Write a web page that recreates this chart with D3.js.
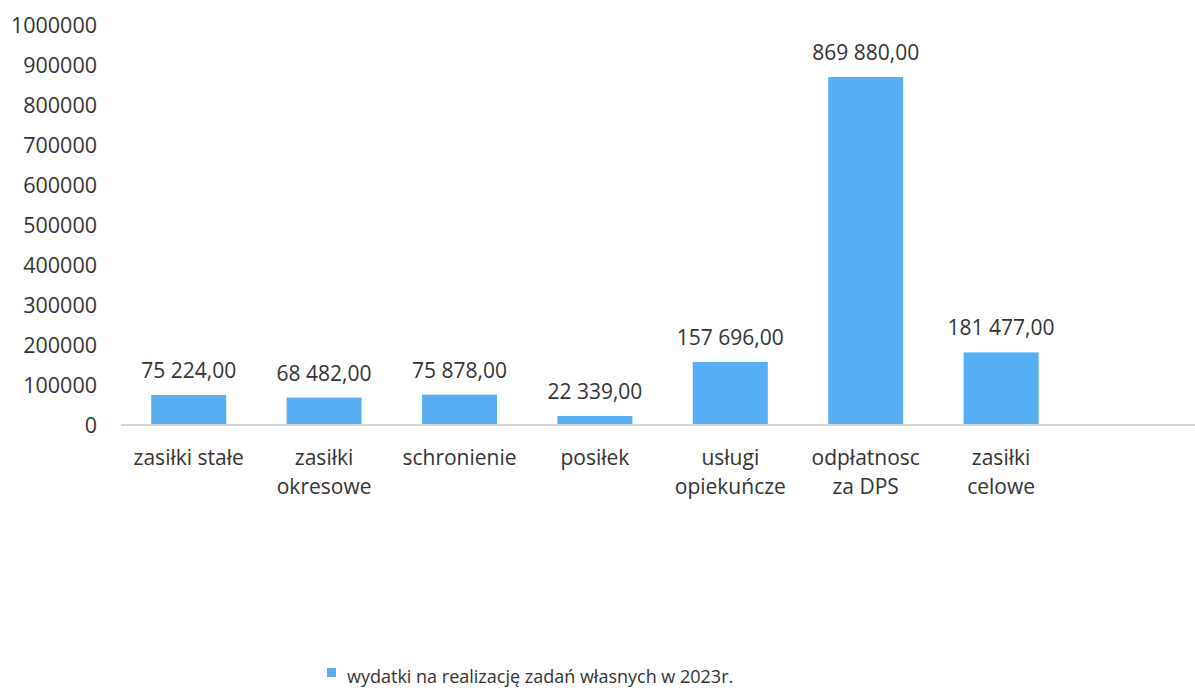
<!DOCTYPE html>
<html>
<head>
<meta charset="utf-8">
<script src="https://cdn.jsdelivr.net/npm/d3@7"></script>
<style>
  body { margin: 0; background: #fff; }
  text { font-family: "Open Sans", sans-serif; fill: #333; }
</style>
</head>
<body>
<div id="chart-area"></div>
<script>
// Chart data
const categories = [
    ["zasiłki stałe"],
    ["zasiłki", "okresowe"],
    ["schronienie"],
    ["posiłek"],
    ["usługi", "opiekuńcze"],
    ["odpłatnosc", "za DPS"],
    ["zasiłki", "celowe"]
];
const values = [75224, 68482, 75878, 22339, 157696, 869880, 181477];
const yTicks = [0, 100000, 200000, 300000, 400000, 500000, 600000, 700000, 800000, 900000, 1000000];
const seriesName = "wydatki na realizację zadań własnych w 2023r.";

// Set width, height
let width = 1195;
let height = 690;

let svg = d3.select("#chart-area").append("svg")
    .attr("width", width)
    .attr("height", height);

// Scales
let x = d3.scaleBand()
    .domain(d3.range(categories.length))
    .range([121, 121 + 135.4 * categories.length])
    .paddingInner(0.446)
    .paddingOuter(0.223);

let y = d3.scaleLinear().domain([0, 1000000]).range([425, 25]);

// Polish number format for labels
const fmt = d3.formatLocale({decimal: ",", thousands: " ", grouping: [3], currency: ["", " zł"]}).format(",.2f");

// Y axis labels (no line)
svg.append("g")
    .selectAll("text")
    .data(yTicks)
    .enter()
    .append("text")
    .attr("x", 97)
    .attr("y", d => y(d))
    .attr("dy", "0.36em")
    .attr("text-anchor", "end")
    .style("font-size", "21.5px")
    .text(d => d);

// Bars
svg.selectAll("rect.bar")
    .data(values)
    .enter()
    .append("rect")
    .attr("class", "bar")
    .attr("x", (d, i) => x(i))
    .attr("y", d => y(d))
    .attr("width", x.bandwidth())
    .attr("height", d => y(0) - y(d))
    .attr("fill", "#58aef3");

// Baseline
svg.append("line")
    .attr("x1", 121)
    .attr("x2", width)
    .attr("y1", y(0))
    .attr("y2", y(0))
    .attr("stroke", "#d4d4d4")
    .attr("stroke-width", 2);

// Value labels
svg.selectAll("text.value")
    .data(values)
    .enter()
    .append("text")
    .attr("class", "value")
    .attr("x", (d, i) => x(i) + x.bandwidth() / 2)
    .attr("y", d => y(d) - 17)
    .attr("text-anchor", "middle")
    .style("font-size", "21px")
    .text(d => fmt(d));

// Category labels
const catLabels = svg.selectAll("text.cat")
    .data(categories)
    .enter()
    .append("text")
    .attr("class", "cat")
    .attr("text-anchor", "middle")
    .style("font-size", "21px");

catLabels.selectAll("tspan")
    .data((d, i) => d.map(line => ({line, i})))
    .enter()
    .append("tspan")
    .attr("x", d => x(d.i) + x.bandwidth() / 2)
    .attr("y", (d, j) => 465 + j * 29)
    .text(d => d.line);

// Legend
svg.append("rect")
    .attr("x", 327)
    .attr("y", 668)
    .attr("width", 9)
    .attr("height", 9)
    .attr("fill", "#58aef3");

svg.append("text")
    .attr("x", 347)
    .attr("y", 683)
    .style("font-size", "18px")
    .text(seriesName);
</script>
</body>
</html>
